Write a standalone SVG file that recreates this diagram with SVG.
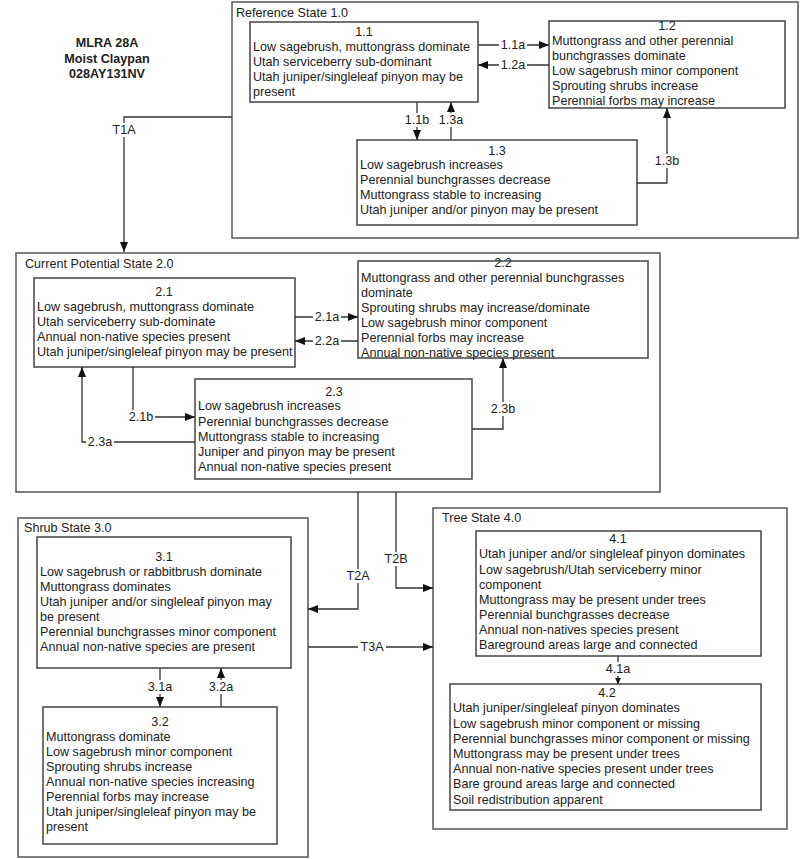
<svg xmlns="http://www.w3.org/2000/svg" width="800" height="859" viewBox="0 0 800 859">
<style>
text{font-family:"Liberation Sans",Arial,sans-serif;font-size:12.6px;fill:#222}
.st{fill:none;stroke:#555;stroke-width:1.5}
.bx{fill:#fff;stroke:#444;stroke-width:1.5}
.c{fill:none;stroke:#333;stroke-width:1.3}
.lb{fill:#fff}
.m{text-anchor:middle}
.b{font-weight:bold}
</style>
<defs>
<marker id="a" markerUnits="userSpaceOnUse" markerWidth="10" markerHeight="8" refX="10" refY="4" orient="auto"><path d="M0,0L10,4L0,8z" fill="#111"/></marker>
<marker id="s" markerUnits="userSpaceOnUse" markerWidth="6" markerHeight="6" refX="6" refY="3" orient="auto"><path d="M0,0L6,3L0,6z" fill="#111"/></marker>
</defs>
<rect width="800" height="859" fill="#fff"/>
<g id="title"><text class="m b" x="107" y="47">MLRA 28A</text><text class="m b" x="107" y="63">Moist Claypan</text><text class="m b" x="107" y="78">028AY131NV</text></g>
<g id="state1"><rect class="st" x="232" y="2" width="566" height="236"/><text x="236" y="17">Reference State 1.0</text></g>
<g id="state2"><rect class="st" x="16" y="253" width="644" height="239"/><text x="25" y="268">Current Potential State 2.0</text></g>
<g id="state3"><rect class="st" x="18" y="518" width="290" height="339"/><text x="24" y="532">Shrub State 3.0</text></g>
<g id="state4"><rect class="st" x="433" y="508" width="354" height="321"/><text x="442" y="522">Tree State 4.0</text></g>
<g id="n11"><rect class="bx" x="250" y="22" width="228" height="80"/><text class="m" x="364" y="36">1.1</text><text x="253"><tspan x="253" y="51">Low sagebrush, muttongrass dominate</tspan><tspan x="253" y="66">Utah serviceberry sub-dominant</tspan><tspan x="253" y="81">Utah juniper/singleleaf pinyon may be</tspan><tspan x="253" y="96">present</tspan></text></g>
<g id="n12"><rect class="bx" x="549" y="21" width="236" height="87"/><text class="m" x="667" y="30">1.2</text><text x="552"><tspan x="552" y="45">Muttongrass and other perennial</tspan><tspan x="552" y="60">bunchgrasses dominate</tspan><tspan x="552" y="75">Low sagebrush minor component</tspan><tspan x="552" y="90">Sprouting shrubs increase</tspan><tspan x="552" y="105">Perennial forbs may increase</tspan></text></g>
<g id="n13"><rect class="bx" x="357" y="140" width="280" height="85"/><text class="m" x="497" y="155">1.3</text><text x="360"><tspan x="360" y="169">Low sagebrush increases</tspan><tspan x="360" y="184">Perennial bunchgrasses decrease</tspan><tspan x="360" y="199">Muttongrass stable to increasing</tspan><tspan x="360" y="214">Utah juniper and/or pinyon may be present</tspan></text></g>
<g id="n21"><rect class="bx" x="34" y="278" width="261" height="89"/><text class="m" x="164" y="296">2.1</text><text x="37"><tspan x="37" y="311">Low sagebrush, muttongrass dominate</tspan><tspan x="37" y="326">Utah serviceberry sub-dominate</tspan><tspan x="37" y="341">Annual non-native species present</tspan><tspan x="37" y="356">Utah juniper/singleleaf pinyon may be present</tspan></text></g>
<g id="n22"><rect class="bx" x="358" y="261" width="290" height="97"/><text class="m" x="503" y="267">2.2</text><text x="361"><tspan x="361" y="282">Muttongrass and other perennial bunchgrasses</tspan><tspan x="361" y="297">dominate</tspan><tspan x="361" y="312">Sprouting shrubs may increase/dominate</tspan><tspan x="361" y="327">Low sagebrush minor component</tspan><tspan x="361" y="342">Perennial forbs may increase</tspan><tspan x="361" y="357">Annual non-native species present</tspan></text></g>
<g id="n23"><rect class="bx" x="195" y="379" width="277" height="100"/><text class="m" x="334" y="396">2.3</text><text x="198"><tspan x="198" y="410">Low sagebrush increases</tspan><tspan x="198" y="426">Perennial bunchgrasses decrease</tspan><tspan x="198" y="441">Muttongrass stable to increasing</tspan><tspan x="198" y="456">Juniper and pinyon may be present</tspan><tspan x="198" y="471">Annual non-native species present</tspan></text></g>
<g id="n31"><rect class="bx" x="37" y="537" width="254" height="131"/><text class="m" x="164" y="561">3.1</text><text x="40"><tspan x="40" y="576">Low sagebrush or rabbitbrush dominate</tspan><tspan x="40" y="591">Muttongrass dominates</tspan><tspan x="40" y="606">Utah juniper and/or singleleaf pinyon may</tspan><tspan x="40" y="621">be present</tspan><tspan x="40" y="636">Perennial bunchgrasses minor component</tspan><tspan x="40" y="651">Annual non-native species are present</tspan></text></g>
<g id="n32"><rect class="bx" x="43" y="707" width="234" height="137"/><text class="m" x="160" y="726">3.2</text><text x="46"><tspan x="46" y="741">Muttongrass dominate</tspan><tspan x="46" y="756">Low sagebrush minor component</tspan><tspan x="46" y="771">Sprouting shrubs increase</tspan><tspan x="46" y="786">Annual non-native species increasing</tspan><tspan x="46" y="801">Perennial forbs may increase</tspan><tspan x="46" y="816">Utah juniper/singleleaf pinyon may be</tspan><tspan x="46" y="831">present</tspan></text></g>
<g id="n41"><rect class="bx" x="476" y="531" width="285" height="125"/><text class="m" x="618" y="543">4.1</text><text x="479"><tspan x="479" y="558">Utah juniper and/or singleleaf pinyon dominates</tspan><tspan x="479" y="574">Low sagebrush/Utah serviceberry minor</tspan><tspan x="479" y="589">component</tspan><tspan x="479" y="604">Muttongrass may be present under trees</tspan><tspan x="479" y="619">Perennial bunchgrasses decrease</tspan><tspan x="479" y="634">Annual non-natives species present</tspan><tspan x="479" y="649">Bareground areas large and connected</tspan></text></g>
<g id="n42"><rect class="bx" x="450" y="684" width="311" height="126"/><text class="m" x="607" y="697">4.2</text><text x="453"><tspan x="453" y="712">Utah juniper/singleleaf pinyon dominates</tspan><tspan x="453" y="728">Low sagebrush minor component or missing</tspan><tspan x="453" y="743">Perennial bunchgrasses minor component or missing</tspan><tspan x="453" y="758">Muttongrass may be present under trees</tspan><tspan x="453" y="773">Annual non-native species present under trees</tspan><tspan x="453" y="788">Bare ground areas large and connected</tspan><tspan x="453" y="804">Soil redistribution apparent</tspan></text></g>
<g id="connectors">
<path class="c" d="M478,45H549" marker-end="url(#a)"/>
<path class="c" d="M549,65H478" marker-end="url(#a)"/>
<path class="c" d="M417,102V140" marker-end="url(#a)"/>
<path class="c" d="M451,140V102" marker-end="url(#a)"/>
<path class="c" d="M637,183H667V108" marker-end="url(#a)"/>
<path class="c" d="M232,117H124V252" marker-end="url(#a)"/>
<path class="c" d="M295,317H358" marker-end="url(#a)"/>
<path class="c" d="M358,341H295" marker-end="url(#a)"/>
<path class="c" d="M133,367V417H195" marker-end="url(#a)"/>
<path class="c" d="M195,442H82V367" marker-end="url(#a)"/>
<path class="c" d="M472,429H503V358" marker-end="url(#a)"/>
<path class="c" d="M358,492V609H308" marker-end="url(#a)"/>
<path class="c" d="M396,492V588H433" marker-end="url(#a)"/>
<path class="c" d="M308,647H433" marker-end="url(#a)"/>
<path class="c" d="M160,668V707" marker-end="url(#a)"/>
<path class="c" d="M221,707V668" marker-end="url(#a)"/>
<path class="c" d="M618,656V684" marker-end="url(#s)"/>
<g>
<rect class="lb" x="499" y="38" width="28" height="14"/><text class="m" x="513" y="49">1.1a</text>
<rect class="lb" x="499" y="58" width="28" height="14"/><text class="m" x="513" y="69">1.2a</text>
<rect class="lb" x="403" y="113" width="28" height="14"/><text class="m" x="417" y="124">1.1b</text>
<rect class="lb" x="437" y="113" width="28" height="14"/><text class="m" x="451" y="124">1.3a</text>
<rect class="lb" x="653" y="154" width="28" height="14"/><text class="m" x="667" y="165">1.3b</text>
<rect class="lb" x="110" y="123" width="28" height="14"/><text class="m" x="124" y="134">T1A</text>
<rect class="lb" x="313" y="310" width="28" height="14"/><text class="m" x="327" y="321">2.1a</text>
<rect class="lb" x="313" y="334" width="28" height="14"/><text class="m" x="327" y="345">2.2a</text>
<rect class="lb" x="127" y="410" width="28" height="14"/><text class="m" x="141" y="421">2.1b</text>
<rect class="lb" x="86" y="435" width="28" height="14"/><text class="m" x="100" y="446">2.3a</text>
<rect class="lb" x="489" y="402" width="28" height="14"/><text class="m" x="503" y="413">2.3b</text>
<rect class="lb" x="344" y="569" width="28" height="14"/><text class="m" x="358" y="580">T2A</text>
<rect class="lb" x="382" y="552" width="28" height="14"/><text class="m" x="396" y="563">T2B</text>
<rect class="lb" x="358" y="640" width="28" height="14"/><text class="m" x="372" y="651">T3A</text>
<rect class="lb" x="146" y="680" width="28" height="14"/><text class="m" x="160" y="691">3.1a</text>
<rect class="lb" x="207" y="680" width="28" height="14"/><text class="m" x="221" y="691">3.2a</text>
<rect class="lb" x="604" y="662" width="28" height="14"/><text class="m" x="618" y="673">4.1a</text>
</g>
</g>
</svg>
